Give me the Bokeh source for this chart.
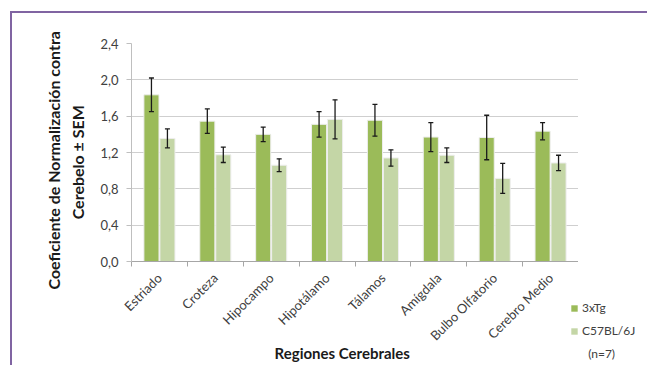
import math
from bokeh.plotting import figure
from bokeh.layouts import row, column
from bokeh.models import (ColumnDataSource, FixedTicker, Whisker, TeeHead,
                          Legend, LegendItem, Range1d)
from bokeh.embed import file_html
from bokeh.resources import INLINE

# ---- data ----
regions = ["Estriado", "Croteza", "Hipocampo", "Hipotálamo", "Tálamos",
           "Amígdala", "Bulbo Olfatorio", "Cerebro Medio"]
tg_mean = [1.835, 1.545, 1.40, 1.51, 1.555, 1.37, 1.365, 1.435]
tg_sem = [0.185, 0.135, 0.08, 0.14, 0.175, 0.16, 0.245, 0.095]
wt_mean = [1.355, 1.175, 1.06, 1.565, 1.14, 1.17, 0.915, 1.085]
wt_sem = [0.105, 0.085, 0.07, 0.215, 0.09, 0.08, 0.165, 0.085]
series_names = ["3xTg", "C57BL/6J"]
legend_note = "(n=7)"
y_ticks = [0.0, 0.4, 0.8, 1.2, 1.6, 2.0, 2.4]
y_tick_labels = ["0,0", "0,4", "0,8", "1,2", "1,6", "2,0", "2,4"]
y_title = ["Coeficiente de Normalización contra", "Cerebelo  \u00b1 SEM"]
x_title = "Regiones Cerebrales"

DARK = "#9bbb59"
LIGHT = "#c4d6a6"
TXT = "#404040"
FONT = "Lato"
NB = "\u00a0"

n = len(regions)
centers = [i + 0.5 for i in range(n)]
off = 0.143
bw = 0.27

src_tg = ColumnDataSource(dict(
    x=[c - off for c in centers], top=tg_mean,
    upper=[m + s for m, s in zip(tg_mean, tg_sem)],
    lower=[m - s for m, s in zip(tg_mean, tg_sem)]))
src_wt = ColumnDataSource(dict(
    x=[c + off for c in centers], top=wt_mean,
    upper=[m + s for m, s in zip(wt_mean, wt_sem)],
    lower=[m - s for m, s in zip(wt_mean, wt_sem)]))

p = figure(width=566, height=352, x_range=Range1d(0, n), y_range=Range1d(0, 2.4),
           output_backend="svg", toolbar_location=None,
           min_border_left=119, min_border_right=0, min_border_top=30,
           min_border_bottom=103)
p.outline_line_color = None
p.background_fill_color = "white"
p.border_fill_color = "white"

r1 = p.vbar(x="x", top="top", width=bw, source=src_tg, fill_color=DARK,
            line_color="#eeeeee", line_width=1)
r2 = p.vbar(x="x", top="top", width=bw, source=src_wt, fill_color=LIGHT,
            line_color="#eeeeee", line_width=1)

for src in (src_tg, src_wt):
    w = Whisker(base="x", upper="upper", lower="lower", source=src, level="annotation",
                line_color="#1a1a1a", line_width=1.3,
                upper_head=TeeHead(size=5, line_color="#1a1a1a", line_width=1.3),
                lower_head=TeeHead(size=5, line_color="#1a1a1a", line_width=1.3))
    p.add_layout(w)

# x axis
p.xaxis.ticker = FixedTicker(ticks=centers, minor_ticks=list(range(n + 1)))
p.xaxis.major_label_overrides = {c: r for c, r in zip(centers, regions)}
p.xaxis.major_tick_line_color = None
p.xaxis.minor_tick_out = 5
p.xaxis.minor_tick_in = 0
p.xaxis.minor_tick_line_color = "#a6a6a6"
p.xaxis.axis_line_color = "#a6a6a6"
p.xaxis.major_label_orientation = math.pi / 4
p.xaxis.major_label_text_font = FONT
p.xaxis.major_label_text_font_size = "13px"
p.xaxis.major_label_text_color = TXT
p.xaxis.major_label_standoff = 8
p.xaxis.axis_label = x_title + NB * 7
p.xaxis.axis_label_text_font = FONT
p.xaxis.axis_label_text_font_style = "bold"
p.xaxis.axis_label_text_font_size = "15px"
p.xaxis.axis_label_text_color = "#1a1a1a"
p.xaxis.axis_label_standoff = -8

# y axis
p.yaxis.ticker = FixedTicker(ticks=y_ticks, minor_ticks=[])
p.yaxis.major_label_overrides = {t: l for t, l in zip(y_ticks, y_tick_labels)}
p.yaxis.major_tick_out = 5
p.yaxis.major_tick_in = 0
p.yaxis.major_tick_line_color = "#bfbfbf"
p.yaxis.axis_line_color = "#bfbfbf"
p.yaxis.major_label_text_font = FONT
p.yaxis.major_label_text_font_size = "13px"
p.yaxis.major_label_text_color = TXT
p.yaxis.major_label_standoff = 8
p.yaxis.axis_label = "\n".join(t + NB * 4 for t in y_title)
p.yaxis.axis_label_text_font = FONT
p.yaxis.axis_label_text_font_style = "bold"
p.yaxis.axis_label_text_font_size = "16px"
p.yaxis.axis_label_text_color = "#1a1a1a"
p.yaxis.axis_label_text_line_height = 1.3
p.yaxis.axis_label_standoff = 10

p.xgrid.grid_line_color = None
p.ygrid.grid_line_color = "#cfcfcf"
p.ygrid.ticker = FixedTicker(ticks=y_ticks)

# legend panel (separate transparent canvas overlapping the plot's right edge)
pl = figure(width=77, height=352, x_range=Range1d(0, 1), y_range=Range1d(0, 1),
            output_backend="svg", toolbar_location=None,
            x_axis_type=None, y_axis_type=None,
            min_border_left=0, min_border_right=0, min_border_top=0, min_border_bottom=0)
pl.outline_line_color = None
pl.grid.visible = False
pl.background_fill_alpha = 0
pl.border_fill_alpha = 0
k1 = pl.vbar(x=[0], top=[0], width=0, fill_color=DARK, line_alpha=0)
k2 = pl.vbar(x=[0], top=[0], width=0, fill_color=LIGHT, line_alpha=0)
k3 = pl.vbar(x=[0], top=[0], width=0, fill_alpha=0, line_alpha=0)
legend = Legend(items=[LegendItem(label=series_names[0], renderers=[k1]),
                       LegendItem(label=series_names[1], renderers=[k2]),
                       LegendItem(label=NB * 2 + legend_note, renderers=[k3])],
                location=(0, 4), orientation="vertical",
                glyph_width=8, glyph_height=8, label_standoff=4, padding=0, margin=0,
                spacing=8, label_height=14, label_text_font=FONT,
                label_text_font_size="12px", label_text_color=TXT,
                border_line_alpha=0, background_fill_alpha=0)
pl.add_layout(legend, "center")

root = row(p, column(pl, spacing=0, styles={"margin-left": "-8px"}), spacing=0,
           styles={"margin-left": "10px", "margin-top": "11px",
                   "border-left": "2px solid #8064a2",
                   "border-top": "2px solid #8064a2"})

open("out.html", "w").write(file_html(root, INLINE))
